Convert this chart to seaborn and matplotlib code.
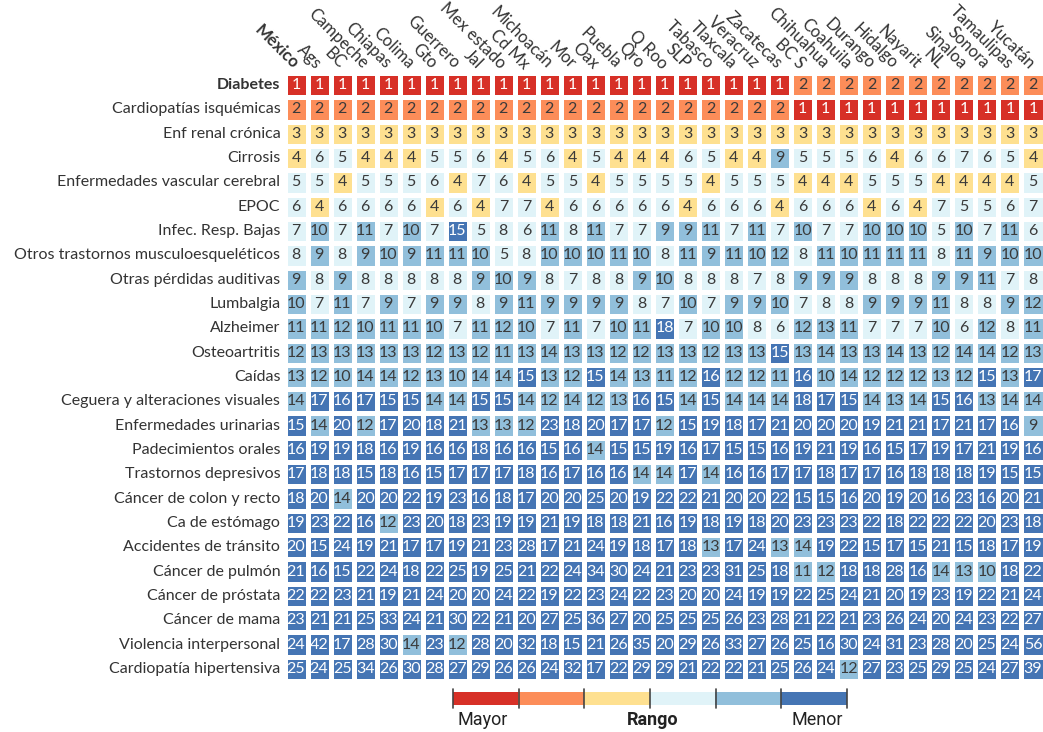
import numpy as np
import pandas as pd
import matplotlib
matplotlib.use('Agg')
import matplotlib.pyplot as plt
from matplotlib.colors import ListedColormap
import seaborn as sns

# ============================================================
# Datos
# ============================================================

estados = ['México', 'Ags', 'BC', 'Campeche', 'Chiapas', 'Colima', 'Gto', 'Guerrero',
           'Jal', 'Mex estado', 'Cd Mx', 'Michoacán', 'Mor', 'Oax', 'Puebla', 'Qro',
           'Q Roo', 'SLP', 'Tabasco', 'Tlaxcala', 'Veracruz', 'Zacatecas', 'BC S',
           'Chihuahua', 'Coahuila', 'Durango', 'Hidalgo', 'Nayarit', 'NL', 'Sinaloa',
           'Sonora', 'Tamaulipas', 'Yucatán']

causas = ['Diabetes', 'Cardiopatías isquémicas', 'Enf renal crónica', 'Cirrosis',
          'Enfermedades vascular cerebral', 'EPOC', 'Infec. Resp. Bajas',
          'Otros trastornos musculoesqueléticos', 'Otras pérdidas auditivas', 'Lumbalgia',
          'Alzheimer', 'Osteoartritis', 'Caídas', 'Ceguera y alteraciones visuales',
          'Enfermedades urinarias', 'Padecimientos orales', 'Trastornos depresivos',
          'Cáncer de colon y recto', 'Ca de estómago', 'Accidentes de tránsito',
          'Cáncer de pulmón', 'Cáncer de próstata', 'Cáncer de mama',
          'Violencia interpersonal', 'Cardiopatía hipertensiva']

diabetes     = [1, 1, 1, 1, 1, 1, 1, 1, 1, 1, 1, 1, 1, 1, 1, 1, 1, 1, 1, 1, 1, 1, 2, 2, 2, 2, 2, 2, 2, 2, 2, 2, 2]
isquemicas   = [2, 2, 2, 2, 2, 2, 2, 2, 2, 2, 2, 2, 2, 2, 2, 2, 2, 2, 2, 2, 2, 2, 1, 1, 1, 1, 1, 1, 1, 1, 1, 1, 1]
renal        = [3, 3, 3, 3, 3, 3, 3, 3, 3, 3, 3, 3, 3, 3, 3, 3, 3, 3, 3, 3, 3, 3, 3, 3, 3, 3, 3, 3, 3, 3, 3, 3, 3]
cirrosis     = [4, 6, 5, 4, 4, 4, 5, 5, 6, 4, 5, 6, 4, 5, 4, 4, 4, 6, 5, 4, 4, 9, 5, 5, 5, 6, 4, 6, 6, 7, 6, 5, 4]
vascular     = [5, 5, 4, 5, 5, 5, 6, 4, 7, 6, 4, 5, 5, 4, 5, 5, 5, 5, 4, 5, 5, 5, 4, 4, 4, 5, 5, 5, 4, 4, 4, 4, 5]
epoc         = [6, 4, 6, 6, 6, 6, 4, 6, 4, 7, 7, 4, 6, 6, 6, 6, 6, 4, 6, 6, 6, 4, 6, 6, 6, 4, 6, 4, 7, 5, 5, 6, 7]
infec        = [7, 10, 7, 11, 7, 10, 7, 15, 5, 8, 6, 11, 8, 11, 7, 7, 9, 9, 11, 7, 11, 7, 10, 7, 7, 10, 10, 10, 5, 10, 7, 11, 6]
musculo      = [8, 9, 8, 9, 10, 9, 11, 11, 10, 5, 8, 10, 10, 10, 11, 10, 8, 11, 9, 11, 10, 12, 8, 11, 10, 11, 11, 11, 8, 11, 9, 10, 10]
auditivas    = [9, 8, 9, 8, 8, 8, 8, 8, 9, 10, 9, 8, 7, 8, 8, 9, 10, 8, 8, 8, 7, 8, 9, 9, 9, 8, 8, 8, 9, 9, 11, 7, 8]
lumbalgia    = [10, 7, 11, 7, 9, 7, 9, 9, 8, 9, 11, 9, 9, 9, 9, 8, 7, 10, 7, 9, 9, 10, 7, 8, 8, 9, 9, 9, 11, 8, 8, 9, 12]
alzheimer    = [11, 11, 12, 10, 11, 11, 10, 7, 11, 12, 10, 7, 11, 7, 10, 11, 18, 7, 10, 10, 8, 6, 12, 13, 11, 7, 7, 7, 10, 6, 12, 8, 11]
osteo        = [12, 13, 13, 13, 13, 13, 12, 13, 12, 11, 13, 14, 13, 13, 12, 12, 13, 13, 12, 13, 13, 15, 13, 14, 13, 13, 14, 13, 12, 14, 14, 12, 13]
caidas       = [13, 12, 10, 14, 14, 12, 13, 10, 14, 14, 15, 13, 12, 15, 14, 13, 11, 12, 16, 12, 12, 11, 16, 10, 14, 12, 12, 12, 13, 12, 15, 13, 17]
ceguera      = [14, 17, 16, 17, 15, 15, 14, 14, 15, 15, 14, 12, 14, 12, 13, 16, 15, 14, 15, 14, 14, 14, 18, 17, 15, 14, 13, 14, 15, 16, 13, 14, 14]
urinarias    = [15, 14, 20, 12, 17, 20, 18, 21, 13, 13, 12, 23, 18, 20, 17, 17, 12, 15, 19, 18, 17, 21, 20, 20, 20, 19, 21, 21, 17, 21, 17, 16, 9]
orales       = [16, 19, 19, 18, 16, 19, 16, 16, 18, 16, 16, 15, 16, 14, 15, 15, 19, 16, 17, 15, 15, 16, 19, 21, 19, 16, 15, 17, 19, 17, 21, 19, 16]
depresivos   = [17, 18, 18, 15, 18, 16, 15, 17, 17, 17, 18, 16, 17, 16, 16, 14, 14, 17, 14, 16, 16, 17, 17, 18, 17, 17, 16, 18, 18, 18, 19, 15, 15]
colon        = [18, 20, 14, 20, 20, 22, 19, 23, 16, 18, 17, 20, 20, 25, 20, 19, 22, 22, 21, 20, 20, 22, 15, 15, 16, 20, 19, 20, 16, 23, 16, 20, 21]
estomago     = [19, 23, 22, 16, 12, 23, 20, 18, 23, 19, 19, 21, 19, 18, 18, 21, 16, 19, 18, 19, 18, 20, 23, 23, 23, 22, 18, 22, 22, 22, 20, 23, 18]
accidentes   = [20, 15, 24, 19, 21, 17, 17, 19, 21, 23, 28, 17, 21, 24, 19, 18, 17, 18, 13, 17, 24, 13, 14, 19, 22, 15, 17, 15, 21, 15, 18, 17, 19]
pulmon       = [21, 16, 15, 22, 24, 18, 22, 25, 19, 25, 21, 22, 24, 34, 30, 24, 21, 23, 23, 31, 25, 18, 11, 12, 18, 18, 28, 16, 14, 13, 10, 18, 22]
prostata     = [22, 22, 23, 21, 19, 21, 24, 20, 20, 24, 22, 19, 22, 23, 24, 22, 23, 20, 20, 24, 19, 19, 22, 25, 24, 21, 20, 19, 23, 19, 22, 21, 24]
mama         = [23, 21, 21, 25, 33, 24, 21, 30, 22, 21, 20, 27, 25, 36, 27, 20, 25, 25, 25, 26, 23, 28, 21, 22, 21, 23, 26, 24, 20, 24, 23, 22, 27]
violencia    = [24, 42, 17, 28, 30, 14, 23, 12, 28, 20, 32, 18, 15, 21, 26, 35, 20, 29, 26, 33, 27, 26, 25, 16, 30, 24, 31, 23, 28, 20, 25, 24, 56]
hipertensiva = [25, 24, 25, 34, 26, 30, 28, 27, 29, 26, 26, 24, 32, 17, 22, 29, 29, 21, 22, 22, 21, 25, 26, 24, 12, 27, 23, 25, 29, 25, 24, 27, 39]

# cortes de rango (limite superior de cada clase)
limites = [1, 2, 4, 8, 14]
colores = ['#d73027', '#fc8d59', '#fee090', '#e0f3f8', '#91bfdb', '#4575b4']
etiquetas_leyenda = ['Mayor', 'Rango', 'Menor']

# ============================================================
# Figura
# ============================================================

sns.set_style('white')
plt.rcParams['font.family'] = ['Lato', 'DejaVu Sans']

filas = [diabetes, isquemicas, renal, cirrosis, vascular, epoc, infec, musculo,
         auditivas, lumbalgia, alzheimer, osteo, caidas, ceguera, urinarias, orales,
         depresivos, colon, estomago, accidentes, pulmon, prostata, mama, violencia,
         hipertensiva]
valores = pd.DataFrame(np.array(filas), index=causas, columns=estados)
clases = pd.DataFrame(np.digitize(valores.values, limites, right=True),
                      index=causas, columns=estados)

fig = plt.figure(figsize=(10.43, 7.32), dpi=100)
W, H = 1043, 732
ax = fig.add_axes([284.5 / W, 1 - 681 / H, 760 / W, 608 / H])

cmap = ListedColormap(colores)
sns.heatmap(clases, ax=ax, cmap=cmap, vmin=-0.5, vmax=5.5, cbar=False,
            annot=valores, fmt='d', linewidths=2.4, linecolor='white',
            annot_kws={'fontsize': 11.5})

# color del texto segun la clase
for txt, c in zip(ax.texts, clases.values.ravel()):
    txt.set_color('white' if c in (0, 5) else '#3a3a3a')

ax.xaxis.tick_top()
ax.tick_params(axis='x', length=0, pad=5)
ax.tick_params(axis='y', length=0, pad=3)
ax.set_xlabel('')
ax.set_ylabel('')
ax.set_xticklabels(estados, rotation=-45, ha='right', va='center',
                   rotation_mode='anchor', fontsize=12, color='#333333')
ax.set_yticklabels(causas, rotation=0, fontsize=11.5, color='#333333')
ax.get_xticklabels()[0].set_fontweight('bold')
ax.get_yticklabels()[0].set_fontweight('bold')

# leyenda de rango
lax = fig.add_axes([453 / W, 1 - 705 / H, 394 / W, 13 / H])
lax.imshow(np.arange(len(colores))[None, :], cmap=cmap, aspect='auto',
           extent=(0, len(colores), 0, 1))
for b in range(len(colores) + 1):
    lax.plot([b, b], [-0.2, 1.2], color='#444444', lw=1.2, clip_on=False)
lax.set_xlim(0, len(colores))
lax.set_ylim(0, 1)
lax.axis('off')

fuente_leyenda = ['Roboto', 'DejaVu Sans']
fig.text(483 / W, 1 - 720 / H, etiquetas_leyenda[0], ha='center', va='center',
         fontsize=13, family=fuente_leyenda, color='#222222')
fig.text(653 / W, 1 - 720 / H, etiquetas_leyenda[1], ha='center', va='center',
         fontsize=13, family=fuente_leyenda, fontweight='bold', color='#222222')
fig.text(817 / W, 1 - 720 / H, etiquetas_leyenda[2], ha='center', va='center',
         fontsize=13, family=fuente_leyenda, color='#222222')

fig.savefig('out.png', dpi=100)
plt.close(fig)
